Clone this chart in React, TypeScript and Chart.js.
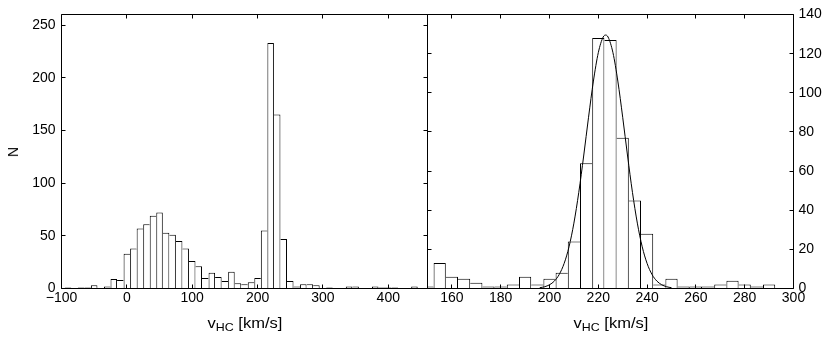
import React, { useEffect, useRef } from 'react';
import { Chart, registerables } from 'chart.js';

Chart.register(...registerables);

// ---------- data ----------
// Left panel: full velocity histogram (bin width 10 km/s, bin centres)
const LEFT_BIN_CENTERS = [
  -100, -90, -80, -70, -60, -50, -40, -30, -20, -10,
  0, 10, 20, 30, 40, 50, 60, 70, 80, 90,
  100, 110, 120, 130, 140, 150, 160, 170, 180, 190,
  200, 210, 220, 230, 240, 250, 260, 270, 280, 290,
  300, 310, 320, 330, 340, 350, 360, 370, 380, 390,
  400, 410, 420, 430, 440, 450, 460,
];
const LEFT_COUNTS = [
  0, 1, 0, 1, 1, 3, 0, 2, 9, 8,
  33, 38, 57, 61, 69, 72, 53, 51, 45, 38,
  26, 21, 10, 15, 11, 7, 16, 5, 4, 6,
  10, 55, 233, 165, 47, 7, 2, 4, 4, 3,
  0, 1, 0, 0, 2, 2, 0, 0, 2, 1,
  1, 1, 0, 0, 2, 0, 0,
];

// Right panel: zoom on the peak (bin width 5 km/s, bin centres)
const RIGHT_BIN_CENTERS = [
  150, 155, 160, 165, 170, 175, 180, 185, 190, 195,
  200, 205, 210, 215, 220, 225, 230, 235, 240, 245,
  250, 255, 260, 265, 270, 275, 280, 285, 290, 295,
  300,
];
const RIGHT_COUNTS = [
  1, 13, 6, 5, 3, 1, 1, 2, 6, 2,
  5, 8, 24, 64, 128, 127, 77, 45, 28, 2,
  5, 1, 1, 1, 2, 4, 2, 1, 2, 0,
  0,
];

// Fitted curve drawn over the right histogram
const FIT_X = [196, 198, 200, 202, 204, 206, 208, 210, 212, 214, 216, 218, 220, 222, 223, 224, 226, 228, 230, 232, 234, 236, 238, 240, 242, 244, 246, 248, 250];
const FIT_Y = [0.4, 0.9, 1.9, 3.8, 7.2, 12.8, 21.3, 33.4, 49.1, 67.7, 87.5, 106.0, 120.5, 128.5, 129.5, 128.5, 120.5, 106.0, 87.5, 67.7, 49.1, 33.4, 21.3, 12.8, 7.2, 3.8, 1.9, 0.9, 0.4];

// Axis ranges / tick steps
const LEFT_X_RANGE = [-100, 460];
const LEFT_X_STEP = 100;
const LEFT_Y_RANGE = [0, 260];
const LEFT_Y_STEP = 50;
const RIGHT_X_RANGE = [150, 300];
const RIGHT_X_STEP = 20;
const RIGHT_Y_RANGE = [0, 140];
const RIGHT_Y_STEP = 20;

// ---------- styling helpers ----------
const FONT = { family: "'Liberation Sans', Arial, Helvetica, sans-serif", size: 14 };
const fmt = (v: any) => String(v).replace('-', '\u2212');

function borderFor(counts: number[]) {
  return (ctx: any) => {
    const i = ctx.dataIndex;
    if (i === undefined || i === null) return 1;
    const cur = counts[i];
    const prev = i > 0 ? counts[i - 1] : 0;
    const next = i < counts.length - 1 ? counts[i + 1] : 0;
    return { top: 1, bottom: 0, left: prev >= cur ? 0 : 1, right: next > cur ? 0 : 1 };
  };
}

const matlabFrame = {
  id: 'matlabFrame',
  afterDatasetsDraw(chart: any) {
    const { ctx, chartArea: a, scales } = chart;
    const snap = (v: number) => Math.floor(v) + 0.5;
    const L = 4;
    const left = snap(a.left), right = snap(a.right), top = snap(a.top), bottom = snap(a.bottom);
    ctx.save();
    ctx.strokeStyle = '#000';
    ctx.lineWidth = 1;
    ctx.beginPath();
    ctx.rect(left, top, right - left, bottom - top);
    const xs = scales.x, ys = scales.y;
    xs.ticks.forEach((t: any) => {
      const p = snap(xs.getPixelForValue(t.value));
      ctx.moveTo(p, bottom); ctx.lineTo(p, bottom - L);
      ctx.moveTo(p, top); ctx.lineTo(p, top + L);
    });
    ys.ticks.forEach((t: any) => {
      const p = snap(ys.getPixelForValue(t.value));
      ctx.moveTo(left, p); ctx.lineTo(left + L, p);
      ctx.moveTo(right, p); ctx.lineTo(right - L, p);
    });
    ctx.stroke();
    ctx.restore();
  },
};

function barDataset(centers: number[], counts: number[]) {
  return {
    type: 'bar' as const,
    data: centers.map((x, i) => ({ x, y: counts[i] })),
    backgroundColor: '#ffffff',
    borderColor: '#000000',
    borderWidth: borderFor(counts),
    borderSkipped: false,
    barPercentage: 1,
    categoryPercentage: 1,
    inflateAmount: 0,
    clip: 0,
    order: 1,
  };
}

function xScale(range: number[], step: number) {
  return {
    type: 'linear',
    position: 'bottom',
    min: range[0],
    max: range[1],
    offset: false,
    grid: { display: false, offset: false, drawTicks: false },
    border: { display: false },
    ticks: { stepSize: step, includeBounds: false, color: '#000', font: FONT, padding: 1.5, maxRotation: 0, autoSkip: false, callback: fmt },
    afterFit: (s: any) => { s.height = 49.5; },
  };
}

function yScale(range: number[], step: number, position: string, width: number, pad: number) {
  return {
    type: 'linear',
    position,
    min: range[0],
    max: range[1],
    grid: { display: false, drawTicks: false },
    border: { display: false },
    ticks: { stepSize: step, includeBounds: false, color: '#000', font: FONT, padding: pad, callback: fmt },
    afterFit: (s: any) => { s.width = width; },
  };
}

const commonOptions = {
  responsive: false,
  animation: false,
  devicePixelRatio: 1,
  events: [],
  plugins: { legend: { display: false }, tooltip: { enabled: false }, title: { display: false } },
};

export default function App() {
  const leftRef = useRef<HTMLCanvasElement>(null);
  const rightRef = useRef<HTMLCanvasElement>(null);

  useEffect(() => {
    const leftChart = new Chart(leftRef.current as HTMLCanvasElement, {
      type: 'bar',
      data: { datasets: [barDataset(LEFT_BIN_CENTERS, LEFT_COUNTS)] } as any,
      options: {
        ...commonOptions,
        layout: { padding: { left: 0, right: 402.5, top: 14.5, bottom: 0 } },
        scales: {
          x: xScale(LEFT_X_RANGE, LEFT_X_STEP),
          y: yScale(LEFT_Y_RANGE, LEFT_Y_STEP, 'left', 61.5, 6),
        },
      } as any,
      plugins: [matlabFrame],
    });

    const rightChart = new Chart(rightRef.current as HTMLCanvasElement, {
      type: 'bar',
      data: {
        datasets: [
          {
            type: 'line',
            data: FIT_X.map((x, i) => ({ x, y: FIT_Y[i] })),
            borderColor: '#000000',
            borderWidth: 1,
            pointRadius: 0,
            tension: 0.4,
            cubicInterpolationMode: 'monotone',
            fill: false,
            clip: 0,
            order: 0,
          },
          barDataset(RIGHT_BIN_CENTERS, RIGHT_COUNTS),
        ],
      } as any,
      options: {
        ...commonOptions,
        layout: { padding: { left: 427.5, right: 0, top: 14.5, bottom: 0 } },
        scales: {
          x: xScale(RIGHT_X_RANGE, RIGHT_X_STEP),
          y: yScale(RIGHT_Y_RANGE, RIGHT_Y_STEP, 'right', 36.5, 5),
        },
      } as any,
      plugins: [matlabFrame],
    });

    return () => {
      leftChart.destroy();
      rightChart.destroy();
    };
  }, []);

  const textFont = "'Liberation Sans', Arial, Helvetica, sans-serif";
  const xLabel = (cx: number) => (
    <div
      style={{
        position: 'absolute',
        left: cx,
        top: 315.5,
        fontFamily: textFont,
        fontSize: 14,
        lineHeight: '14px',
        whiteSpace: 'nowrap',
        color: '#000',
        transform: 'translateX(-50%) scaleX(1.18)',
      }}
    >
      <span>v</span>
      <span style={{ fontSize: 10.5, position: 'relative', top: 3.5 }}>HC</span>
      <span> [km/s]</span>
    </div>
  );

  return (
    <div style={{ position: 'absolute', left: 0, top: 0, width: 830, height: 338, background: '#fff', overflow: 'hidden' }}>
      <canvas ref={leftRef} width={830} height={338} style={{ position: 'absolute', left: 0, top: 0, display: 'block' }} />
      <canvas ref={rightRef} width={830} height={338} style={{ position: 'absolute', left: 0, top: 0, display: 'block' }} />
      <div
        style={{
          position: 'absolute',
          left: 12.5,
          top: 152,
          fontFamily: textFont,
          fontSize: 14,
          lineHeight: '14px',
          color: '#000',
          transform: 'translate(-50%, -50%) rotate(-90deg)',
        }}
      >
        N
      </div>
      {xLabel(244.5)}
      {xLabel(610.5)}
    </div>
  );
}
